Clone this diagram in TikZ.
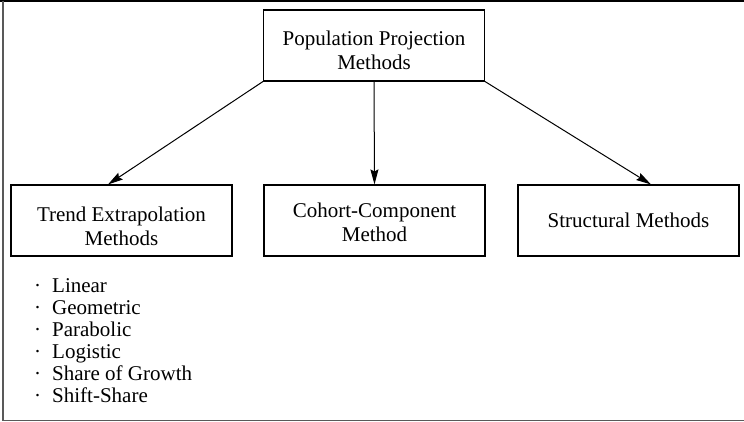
\documentclass[tikz,border=0pt]{standalone}
\usepackage{fontspec}
\setmainfont{Liberation Serif}
\usetikzlibrary{arrows.meta}
\newcommand{\lowerby}[2]{\raisebox{-#1}[\height][\depth]{#2}}
\begin{document}
\begin{tikzpicture}[x=1pt,y=-1pt,
  box/.style={draw=black, line width=1.1pt, rectangle, minimum width=221pt, minimum height=71pt,
    inner sep=0pt, align=center, font=\fontsize{21}{24}\selectfont},
  conn/.style={draw=black, line width=1pt, -{Stealth[length=15pt,width=8pt,inset=2pt]}},
  item/.style={anchor=base west, inner sep=0pt, font=\fontsize{21}{22}\selectfont},
  frame/.style={line width=1.6pt}]
\useasboundingbox (0,0) rectangle (744,422);
% frame
\draw[frame, black] (0,1.2) -- (744,1.2);
\draw[frame, black!65] (3,1) -- (3,420.5) -- (744,420.5);
% boxes
\node[box] (top) at (374,45.5) {\lowerby{5pt}{Population Projection}\\\lowerby{5pt}{Methods}};
\node[box] (trend) at (121.5,220.5) {\lowerby{6pt}{Trend Extrapolation}\\\lowerby{6pt}{Methods}};
\node[box] (cohort) at (374.5,220.5) {\lowerby{2pt}{Cohort-Component}\\\lowerby{2pt}{Method}};
\node[box] (struct) at (628.5,220.5) {Structural Methods};
% connectors
\draw[conn] (top.south west) -- ([xshift=-13.5pt]trend.north);
\draw[conn] (top.south) -- (cohort.north);
\draw[conn] (top.south east) -- ([xshift=22.5pt]struct.north);
% list
\node[item] (l1) at (34,292) {·\hspace{11pt}Linear};
\node[item] (l2) at (34,314) {·\hspace{11pt}Geometric};
\node[item] (l3) at (34,336) {·\hspace{11pt}Parabolic};
\node[item] (l4) at (34,358) {·\hspace{11pt}Logistic};
\node[item] (l5) at (34,380) {·\hspace{11pt}Share of Growth};
\node[item] (l6) at (34,402) {·\hspace{11pt}Shift-Share};
\end{tikzpicture}
\end{document}
